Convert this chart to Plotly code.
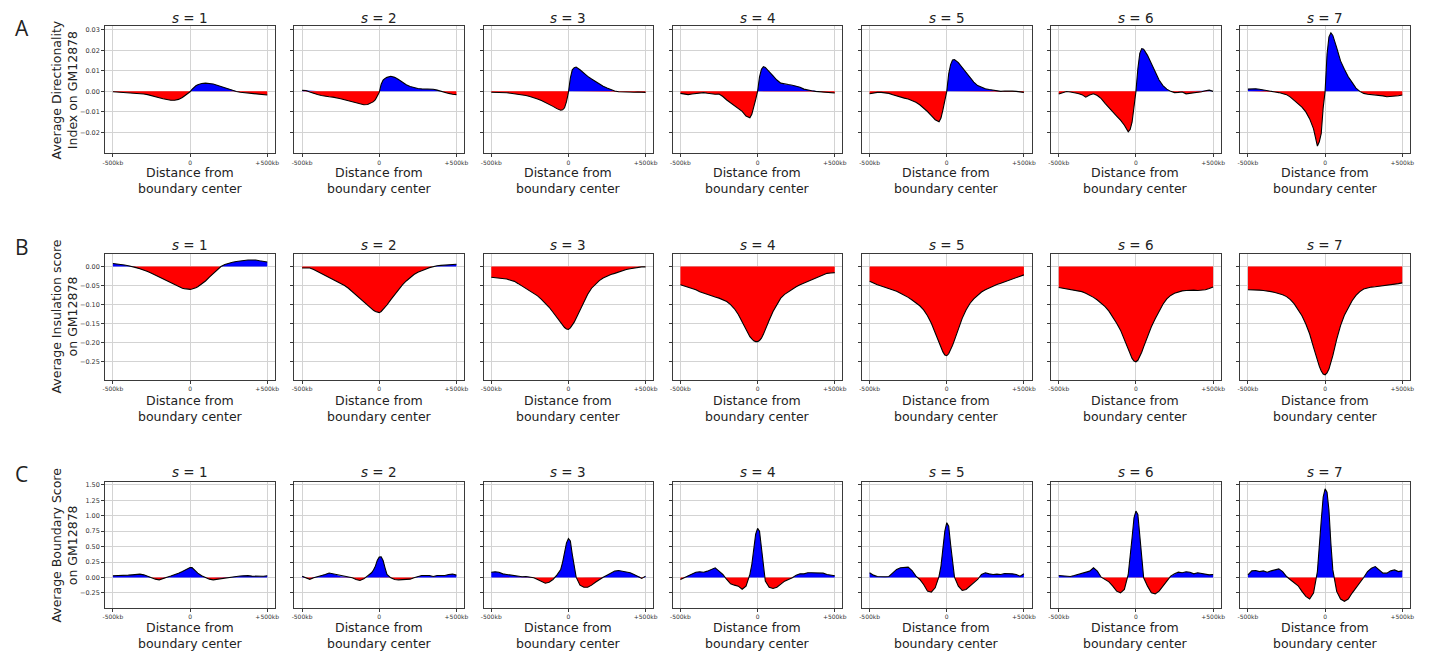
import plotly.graph_objects as go

W, H = 1432, 654

# Distance from boundary center (kb)
X_KB = [-500, -475, -450, -425, -400, -375, -350, -325, -300, -275, -250, -225, -200, -175, -150, -125, -100, -75,
        -50, -37.5, -25, -12.5, 0, 12.5, 25, 37.5, 50,
        75, 100, 125, 150, 175, 200, 225, 250, 275, 300, 325, 350, 375, 400, 425, 450, 475, 500]

S_LABELS = [1, 2, 3, 4, 5, 6, 7]
ROW_LETTERS = ["A", "B", "C"]
Y_TITLES = ["Average Directionality<br>Index on GM12878",
            "Average Insulation score<br>on GM12878",
            "Average Boundary Score<br>on GM12878"]
X_TITLE = "Distance from<br>boundary center"
X_TICKVALS = [-500, 0, 500]
X_TICKTEXT = ["-500kb", "0", "+500kb"]

# Row A: Average Directionality Index
DI_S1 = [-0.0002, -0.0003, -0.0004, -0.0005, -0.0006, -0.0007, -0.0009, -0.0011, -0.0013, -0.0016, -0.0020, -0.0025, -0.0031, -0.0036, -0.0040, -0.0043, -0.0043, -0.0039,
         -0.0030, -0.0024, -0.0017, -0.0010, -0.0002, 0.0010, 0.0020, 0.0027, 0.0032,
         0.0038, 0.0040, 0.0039, 0.0036, 0.0030, 0.0024, 0.0017, 0.0010, 0.0004, -0.0001, -0.0004, -0.0006, -0.0008, -0.0010, -0.0012, -0.0016, -0.0018, -0.0018]
DI_S2 = [0.0005, 0.0004, -0.0003, -0.0010, -0.0015, -0.0020, -0.0024, -0.0026, -0.0028, -0.0031, -0.0036, -0.0041, -0.0046, -0.0051, -0.0056, -0.0061, -0.0065, -0.0064,
         -0.0057, -0.0050, -0.0040, -0.0025, -0.0005, 0.0035, 0.0055, 0.0063, 0.0068,
         0.0073, 0.0068, 0.0058, 0.0045, 0.0032, 0.0024, 0.0018, 0.0014, 0.0012, 0.0012, 0.0011, 0.0010, 0.0006, 0.0000, -0.0005, -0.0010, -0.0014, -0.0016]
DI_S3 = [-0.0004, -0.0004, -0.0005, -0.0006, -0.0007, -0.0009, -0.0011, -0.0013, -0.0016, -0.0020, -0.0025, -0.0030, -0.0037, -0.0045, -0.0053, -0.0063, -0.0073, -0.0084,
         -0.0092, -0.0090, -0.0080, -0.0050, -0.0005, 0.0065, 0.0105, 0.0115, 0.0118,
         0.0105, 0.0088, 0.0073, 0.0060, 0.0047, 0.0036, 0.0025, 0.0016, 0.0008, 0.0002, -0.0002, -0.0003, -0.0002, -0.0003, -0.0004, -0.0003, -0.0005, -0.0005]
DI_S4 = [-0.0010, -0.0013, -0.0016, -0.0013, -0.0010, -0.0007, -0.0006, -0.0009, -0.0013, -0.0014, -0.0013, -0.0025, -0.0042, -0.0055, -0.0068, -0.0082, -0.0097, -0.0120,
         -0.0128, -0.0112, -0.0080, -0.0040, 0.0000, 0.0070, 0.0108, 0.0120, 0.0116,
         0.0095, 0.0078, 0.0055, 0.0040, 0.0035, 0.0033, 0.0030, 0.0026, 0.0020, 0.0011, 0.0006, 0.0003, 0.0000, -0.0002, -0.0004, -0.0006, -0.0007, -0.0008]
DI_S5 = [-0.0012, -0.0008, -0.0005, -0.0005, -0.0006, -0.0010, -0.0016, -0.0022, -0.0029, -0.0033, -0.0037, -0.0044, -0.0053, -0.0065, -0.0080, -0.0098, -0.0118, -0.0138,
         -0.0148, -0.0130, -0.0090, -0.0045, 0.0000, 0.0085, 0.0130, 0.0153, 0.0155,
         0.0140, 0.0117, 0.0092, 0.0068, 0.0045, 0.0028, 0.0019, 0.0013, 0.0009, 0.0006, 0.0003, 0.0000, 0.0002, 0.0003, 0.0001, 0.0000, -0.0003, -0.0005]
DI_S6 = [-0.0013, -0.0006, -0.0001, -0.0003, -0.0005, -0.0010, -0.0016, -0.0028, -0.0018, -0.0012, -0.0020, -0.0035, -0.0058, -0.0080, -0.0100, -0.0120, -0.0140, -0.0165,
         -0.0197, -0.0185, -0.0150, -0.0080, 0.0000, 0.0110, 0.0185, 0.0208, 0.0205,
         0.0175, 0.0133, 0.0097, 0.0055, 0.0028, 0.0011, 0.0000, -0.0006, -0.0005, -0.0003, -0.0012, -0.0010, -0.0008, -0.0006, -0.0002, 0.0003, 0.0006, 0.0000]
DI_S7 = [0.0011, 0.0012, 0.0013, 0.0010, 0.0006, 0.0003, 0.0000, -0.0003, -0.0006, -0.0010, -0.0016, -0.0028, -0.0045, -0.0060, -0.0077, -0.0100, -0.0134, -0.0182,
         -0.0266, -0.0245, -0.0205, -0.0080, 0.0000, 0.0180, 0.0265, 0.0285, 0.0272,
         0.0213, 0.0148, 0.0108, 0.0071, 0.0044, 0.0016, 0.0000, -0.0010, -0.0014, -0.0016, -0.0017, -0.0018, -0.0022, -0.0026, -0.0025, -0.0023, -0.0021, -0.0018]

# Row B: Average Insulation score
INS_S1 = [0.008, 0.007, 0.006, 0.004, 0.002, -0.000, -0.003, -0.006, -0.009, -0.013, -0.018, -0.023, -0.029, -0.034, -0.039, -0.044, -0.049, -0.053,
          -0.057, -0.058, -0.059, -0.060, -0.060, -0.059, -0.058, -0.056, -0.053,
          -0.046, -0.038, -0.028, -0.018, -0.008, 0.000, 0.005, 0.009, 0.011, 0.013, 0.015, 0.016, 0.017, 0.017, 0.017, 0.015, 0.013, 0.012]
INS_S2 = [-0.004, -0.004, -0.004, -0.008, -0.013, -0.019, -0.025, -0.029, -0.033, -0.038, -0.044, -0.050, -0.057, -0.066, -0.075, -0.085, -0.094, -0.103,
          -0.112, -0.115, -0.118, -0.120, -0.121, -0.118, -0.113, -0.107, -0.101,
          -0.087, -0.073, -0.060, -0.048, -0.038, -0.029, -0.021, -0.015, -0.010, -0.007, -0.003, 0.000, 0.002, 0.003, 0.004, 0.004, 0.005, 0.006]
INS_S3 = [-0.028, -0.029, -0.031, -0.032, -0.033, -0.036, -0.039, -0.045, -0.051, -0.057, -0.063, -0.070, -0.077, -0.086, -0.096, -0.107, -0.120, -0.134,
          -0.149, -0.155, -0.160, -0.164, -0.165, -0.161, -0.154, -0.146, -0.136,
          -0.114, -0.092, -0.073, -0.057, -0.046, -0.037, -0.030, -0.025, -0.021, -0.018, -0.014, -0.011, -0.008, -0.006, -0.004, -0.002, -0.001, -0.001]
INS_S4 = [-0.048, -0.051, -0.054, -0.058, -0.061, -0.066, -0.070, -0.074, -0.077, -0.080, -0.083, -0.087, -0.092, -0.100, -0.111, -0.126, -0.145, -0.166,
          -0.184, -0.190, -0.195, -0.197, -0.197, -0.194, -0.188, -0.178, -0.167,
          -0.141, -0.118, -0.099, -0.083, -0.073, -0.066, -0.059, -0.053, -0.048, -0.044, -0.039, -0.035, -0.031, -0.028, -0.023, -0.018, -0.017, -0.016]
INS_S5 = [-0.039, -0.044, -0.048, -0.051, -0.054, -0.058, -0.061, -0.065, -0.070, -0.075, -0.081, -0.088, -0.095, -0.103, -0.114, -0.129, -0.149, -0.175,
          -0.200, -0.213, -0.224, -0.232, -0.234, -0.229, -0.219, -0.207, -0.193,
          -0.163, -0.136, -0.114, -0.097, -0.085, -0.075, -0.067, -0.061, -0.056, -0.051, -0.047, -0.044, -0.040, -0.037, -0.033, -0.029, -0.025, -0.022]
INS_S6 = [-0.055, -0.057, -0.059, -0.060, -0.061, -0.063, -0.066, -0.070, -0.075, -0.081, -0.088, -0.096, -0.105, -0.117, -0.132, -0.149, -0.167, -0.193,
          -0.219, -0.231, -0.241, -0.248, -0.250, -0.246, -0.237, -0.225, -0.211,
          -0.183, -0.158, -0.137, -0.118, -0.099, -0.085, -0.076, -0.070, -0.066, -0.064, -0.063, -0.062, -0.062, -0.063, -0.062, -0.061, -0.058, -0.054]
INS_S7 = [-0.061, -0.061, -0.061, -0.062, -0.063, -0.064, -0.066, -0.068, -0.070, -0.074, -0.079, -0.087, -0.098, -0.112, -0.129, -0.151, -0.177, -0.212,
          -0.247, -0.262, -0.274, -0.282, -0.284, -0.279, -0.269, -0.253, -0.234,
          -0.191, -0.155, -0.128, -0.107, -0.090, -0.076, -0.066, -0.059, -0.056, -0.054, -0.053, -0.052, -0.051, -0.050, -0.049, -0.047, -0.045, -0.043]

# Row C: Average Boundary Score
BS_S1 = [0.027, 0.027, 0.027, 0.032, 0.038, 0.043, 0.048, 0.054, 0.043, 0.016, 0.000, -0.027, -0.038, -0.022, 0.005, 0.025, 0.043, 0.070,
         0.097, 0.110, 0.124, 0.145, 0.161, 0.160, 0.124, 0.095, 0.070,
         0.027, 0.000, -0.027, -0.038, -0.027, -0.016, -0.008, 0.000, 0.008, 0.016, 0.025, 0.032, 0.030, 0.022, 0.020, 0.016, 0.020, 0.027]
BS_S2 = [0.022, -0.010, -0.030, -0.005, 0.011, 0.032, 0.049, 0.072, 0.059, 0.038, 0.022, 0.016, 0.005, -0.005, -0.032, -0.049, -0.022, 0.022,
         0.076, 0.120, 0.184, 0.280, 0.330, 0.335, 0.275, 0.157, 0.049,
         -0.005, -0.032, -0.038, -0.038, -0.032, -0.027, -0.005, 0.016, 0.032, 0.032, 0.032, 0.016, 0.032, 0.032, 0.032, 0.049, 0.055, 0.038]
BS_S3 = [0.086, 0.092, 0.086, 0.059, 0.049, 0.038, 0.022, 0.022, 0.011, 0.016, 0.005, -0.005, -0.032, -0.059, -0.092, -0.076, -0.032, 0.038,
         0.130, 0.250, 0.400, 0.560, 0.630, 0.590, 0.373, 0.157, 0.005,
         -0.124, -0.157, -0.157, -0.124, -0.076, -0.032, 0.005, 0.038, 0.076, 0.103, 0.113, 0.103, 0.086, 0.076, 0.049, 0.022, -0.016, 0.022]
BS_S4 = [-0.032, -0.005, 0.032, 0.059, 0.086, 0.092, 0.086, 0.103, 0.130, 0.157, 0.103, 0.049, -0.032, -0.103, -0.124, -0.140, -0.190, -0.140,
         0.049, 0.210, 0.454, 0.700, 0.794, 0.750, 0.480, 0.157, -0.059,
         -0.157, -0.178, -0.157, -0.103, -0.059, -0.032, -0.005, 0.038, 0.059, 0.059, 0.076, 0.076, 0.076, 0.081, 0.070, 0.049, 0.038, 0.027]
BS_S5 = [0.076, 0.038, 0.016, 0.011, 0.011, 0.016, 0.076, 0.130, 0.157, 0.167, 0.167, 0.113, 0.022, -0.032, -0.113, -0.221, -0.238, -0.167,
         0.022, 0.184, 0.480, 0.750, 0.886, 0.830, 0.535, 0.210, 0.005,
         -0.140, -0.210, -0.194, -0.140, -0.086, -0.032, 0.049, 0.076, 0.059, 0.049, 0.054, 0.049, 0.065, 0.065, 0.059, 0.049, 0.022, 0.059]
BS_S6 = [0.032, 0.027, 0.016, 0.016, 0.032, 0.049, 0.065, 0.086, 0.103, 0.157, 0.103, 0.005, -0.032, -0.070, -0.140, -0.221, -0.248, -0.194,
         0.049, 0.319, 0.643, 0.966, 1.075, 1.020, 0.700, 0.265, -0.005,
         -0.140, -0.248, -0.265, -0.221, -0.140, -0.059, 0.022, 0.059, 0.086, 0.076, 0.092, 0.086, 0.059, 0.076, 0.065, 0.049, 0.043, 0.049]
BS_S7 = [0.043, 0.107, 0.112, 0.096, 0.107, 0.086, 0.107, 0.123, 0.139, 0.096, 0.016, -0.037, -0.080, -0.134, -0.225, -0.305, -0.348, -0.252,
         0.096, 0.444, 0.926, 1.300, 1.435, 1.380, 1.087, 0.551, 0.123,
         -0.225, -0.348, -0.385, -0.348, -0.252, -0.171, -0.091, 0.000, 0.096, 0.150, 0.177, 0.123, 0.070, 0.070, 0.107, 0.123, 0.096, 0.107]

ROWS = [
    [DI_S1, DI_S2, DI_S3, DI_S4, DI_S5, DI_S6, DI_S7],
    [INS_S1, INS_S2, INS_S3, INS_S4, INS_S5, INS_S6, INS_S7],
    [BS_S1, BS_S2, BS_S3, BS_S4, BS_S5, BS_S6, BS_S7],
]

Y_TICKVALS = [
    [-0.02, -0.01, 0.0, 0.01, 0.02, 0.03],
    [-0.25, -0.20, -0.15, -0.10, -0.05, 0.0],
    [-0.25, 0.0, 0.25, 0.5, 0.75, 1.0, 1.25, 1.5],
]
Y_TICKTEXT = [
    ["\u22120.02", "\u22120.01", "0.00", "0.01", "0.02", "0.03"],
    ["\u22120.25", "\u22120.20", "\u22120.15", "\u22120.10", "\u22120.05", "0.00"],
    ["\u22120.25", "0.00", "0.25", "0.50", "0.75", "1.00", "1.25", "1.50"],
]

# ---------- style / geometry ----------
Y_RANGES = [[-0.0302, 0.0318], [-0.297, 0.033], [-0.49, 1.546]]
ROW_TOP = [25.0, 253.3, 481.7]
ROW_BOT = [152.7, 379.3, 607.7]
COL_LEFT0, COL_STEP, COL_W = 102.7, 190.1, 170.6
TITLE_Y = [17, 244, 472]
XLAB_Y = [180, 408, 635]
LETTER_Y = [27, 246, 474]
FONT = "DejaVu Sans, sans-serif"
BLUE, RED = "#0000ff", "#ff0000"
GRID = "#d3d3d3"
FRAME = "#3a3a3a"


def split_sign(xs, ys):
    """insert zero crossings so the red/blue fills meet at y=0"""
    nx, ny = [xs[0]], [ys[0]]
    for i in range(1, len(xs)):
        x0, y0, x1, y1 = xs[i - 1], ys[i - 1], xs[i], ys[i]
        if (y0 < 0 < y1) or (y0 > 0 > y1):
            xc = x0 - y0 * (x1 - x0) / (y1 - y0)
            nx.append(xc)
            ny.append(0.0)
        nx.append(x1)
        ny.append(y1)
    pos = [max(v, 0.0) for v in ny]
    neg = [min(v, 0.0) for v in ny]
    return nx, pos, neg


fig = go.Figure()
layout = dict(
    width=W, height=H, margin=dict(l=0, r=0, t=0, b=0),
    paper_bgcolor="white", plot_bgcolor="white", showlegend=False,
    font=dict(family=FONT, color="#222222"),
)
annotations = []

idx = 0
for r in range(3):
    for c in range(7):
        idx += 1
        xa = "x" if idx == 1 else f"x{idx}"
        ya = "y" if idx == 1 else f"y{idx}"
        ys = ROWS[r][c]
        nx, pos, neg = split_sign(X_KB, ys)
        fig.add_trace(go.Scatter(x=nx, y=pos, mode="lines", line=dict(width=0, color=BLUE),
                                 fill="tozeroy", fillcolor=BLUE, xaxis=xa, yaxis=ya, hoverinfo="skip"))
        fig.add_trace(go.Scatter(x=nx, y=neg, mode="lines", line=dict(width=0, color=RED),
                                 fill="tozeroy", fillcolor=RED, xaxis=xa, yaxis=ya, hoverinfo="skip"))
        fig.add_trace(go.Scatter(x=X_KB, y=ys, mode="lines", line=dict(width=1.1, color="black"),
                                 xaxis=xa, yaxis=ya))

        left = COL_LEFT0 + c * COL_STEP
        right = left + COL_W
        xdom = [left / W, right / W]
        ydom = [1 - ROW_BOT[r] / H, 1 - ROW_TOP[r] / H]
        xkey = "xaxis" if idx == 1 else f"xaxis{idx}"
        ykey = "yaxis" if idx == 1 else f"yaxis{idx}"
        layout[xkey] = dict(
            domain=xdom, anchor=ya, range=[-550, 550],
            tickvals=X_TICKVALS, ticktext=X_TICKTEXT, tickfont=dict(size=6, family=FONT, color="#333"),
            ticks="outside", ticklen=3, tickwidth=0.8, tickcolor=FRAME,
            showgrid=True, gridcolor=GRID, gridwidth=1, zeroline=False,
            showline=True, linecolor=FRAME, linewidth=1, mirror=True, fixedrange=True,
        )
        layout[ykey] = dict(
            domain=ydom, anchor=xa, range=Y_RANGES[r],
            tickvals=Y_TICKVALS[r], ticktext=Y_TICKTEXT[r],
            tickfont=dict(size=6.5, family=FONT, color="#333"), showticklabels=(c == 0),
            ticks="outside", ticklen=3, tickwidth=0.8, tickcolor=FRAME,
            showgrid=True, gridcolor=GRID, gridwidth=1, zeroline=False,
            showline=True, linecolor=FRAME, linewidth=1, mirror=True, fixedrange=True,
        )
        cx = (left + right) / 2 / W
        annotations.append(dict(text=f"<i>s</i> = {S_LABELS[c]}", x=cx, y=1 - TITLE_Y[r] / H,
                                xref="paper", yref="paper", showarrow=False, xanchor="center", yanchor="middle",
                                font=dict(size=13.5, family=FONT, color="#222")))
        annotations.append(dict(text=X_TITLE, x=cx, y=1 - XLAB_Y[r] / H,
                                xref="paper", yref="paper", showarrow=False, xanchor="center", yanchor="middle",
                                font=dict(size=12.5, family=FONT, color="#222")))

    annotations.append(dict(text=Y_TITLES[r], x=62 / W, y=1 - (ROW_TOP[r] + ROW_BOT[r]) / 2 / H,
                            xref="paper", yref="paper", showarrow=False, textangle=-90,
                            xanchor="center", yanchor="middle",
                            font=dict(size=12.5, family=FONT, color="#222")))
    annotations.append(dict(text=ROW_LETTERS[r], x=19 / W, y=1 - LETTER_Y[r] / H,
                            xref="paper", yref="paper", showarrow=False,
                            xanchor="center", yanchor="middle",
                            font=dict(size=21, family="Open Sans, sans-serif", color="#222")))

layout["annotations"] = annotations
fig.update_layout(**layout)
fig.write_html("out.html")
